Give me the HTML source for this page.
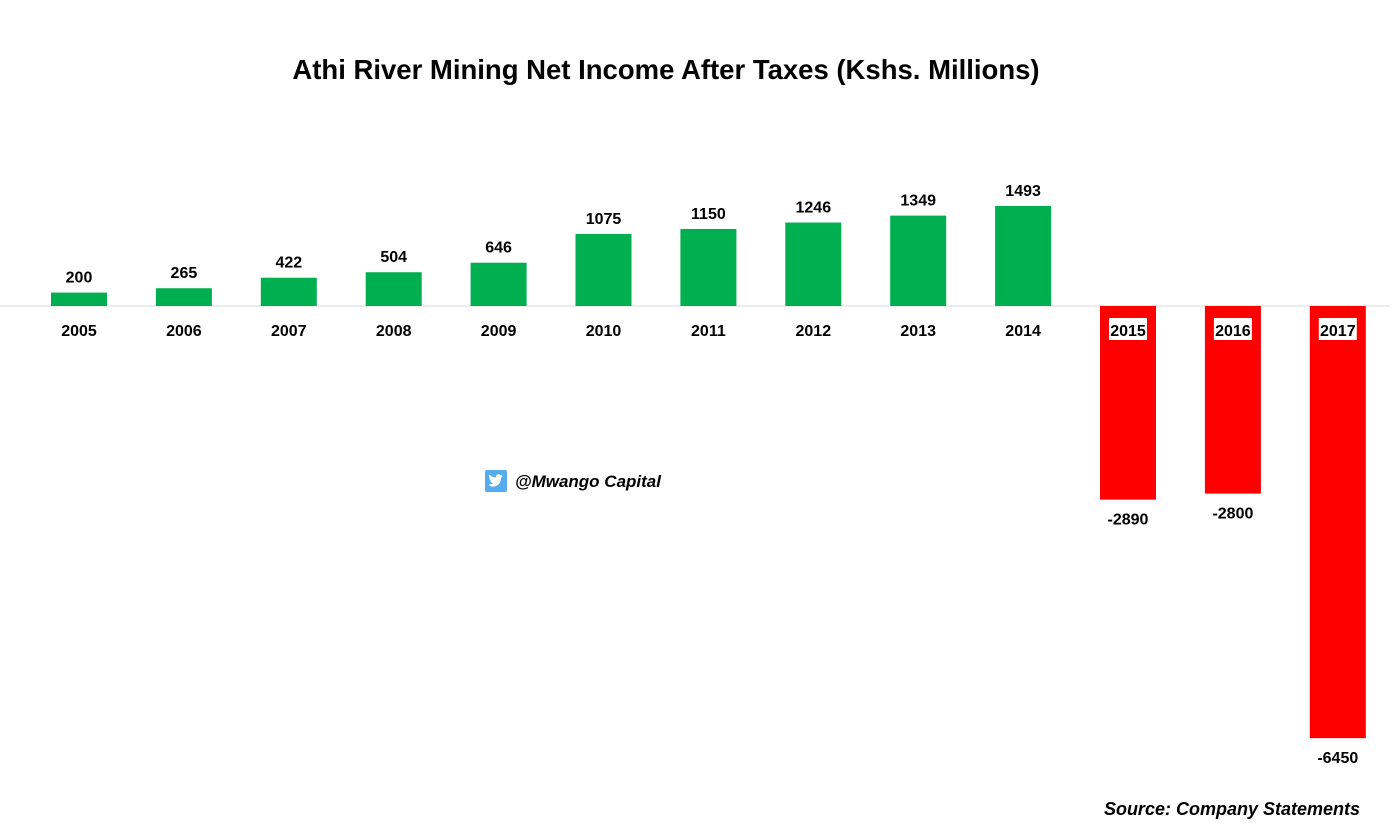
<!DOCTYPE html>
<html><head><meta charset="utf-8"><style>
body{margin:0;background:#fff;font-family:"Liberation Sans",sans-serif;}
svg text{font-family:"Liberation Sans",sans-serif;}
</style></head><body>
<svg id="chart" width="1396" height="828">
<text x="666" y="79" text-anchor="middle" font-size="27.5" font-weight="bold" fill="#000">Athi River Mining Net Income After Taxes (Kshs. Millions)</text>
<line x1="0" y1="306" x2="1390" y2="306" stroke="#d9d9d9" stroke-width="1"/>
<g id="bars"></g>
<g>
<rect x="485" y="470" width="22" height="22" rx="2" fill="#55acee"/>
<path d="M490 486c5 2 11-1 11-8l2-2-2 .5 1.5-2-2 .7c-2-2-5-.5-4.5 2.3-3 0-5-1.5-6.5-3-1 2 0 3.5 1 4l-1.2-.3c0 1.5 1 2.5 2.3 2.8h-1.3c.5 1.2 1.5 2 3 2-1.5 1.2-3 1.5-4.3 1.3z" fill="#fff"/>
<text x="515" y="487" font-size="17" font-weight="bold" font-style="italic" fill="#000">@Mwango Capital</text>
</g>
<text x="1360" y="815" text-anchor="end" font-size="18" font-weight="bold" font-style="italic" fill="#000">Source: Company Statements</text>
</svg>
<script>
const categories=["2005","2006","2007","2008","2009","2010","2011","2012","2013","2014","2015","2016","2017"];
const values=[200,265,422,504,646,1075,1150,1246,1349,1493,-2890,-2800,-6450];
const NS="http://www.w3.org/2000/svg";
const g=document.getElementById('bars');
function xPos(i){return 79+i*104.9;}
function yPos(v){return 306-v*0.067;}
function mk(t,a){const e=document.createElementNS(NS,t);for(const k in a)e.setAttribute(k,a[k]);g.appendChild(e);return e;}
categories.forEach((c,i)=>{
  const v=values[i],x=xPos(i),y0=yPos(0),y1=yPos(v);
  const r=mk('rect',{x:x-28,y:Math.min(y0,y1),width:56,height:Math.abs(y1-y0),fill:v>=0?'#00b050':'#ff0000'});
  
  
  const lv=mk('text',{x:x,y:v>=0?y1-10:y1+25,'text-anchor':'middle','font-size':'16','font-weight':'bold',fill:'#000'});
  lv.textContent=v;
  
  
  if(v<0){
    const bg=mk('rect',{x:x-19,y:318,width:38,height:22,fill:'#fff'});
    
    
  }
  const ly=mk('text',{x:x,y:336,'text-anchor':'middle','font-size':'16','font-weight':'bold',fill:'#000'});
  ly.textContent=c;
  
  
});
</script>
</body></html>
